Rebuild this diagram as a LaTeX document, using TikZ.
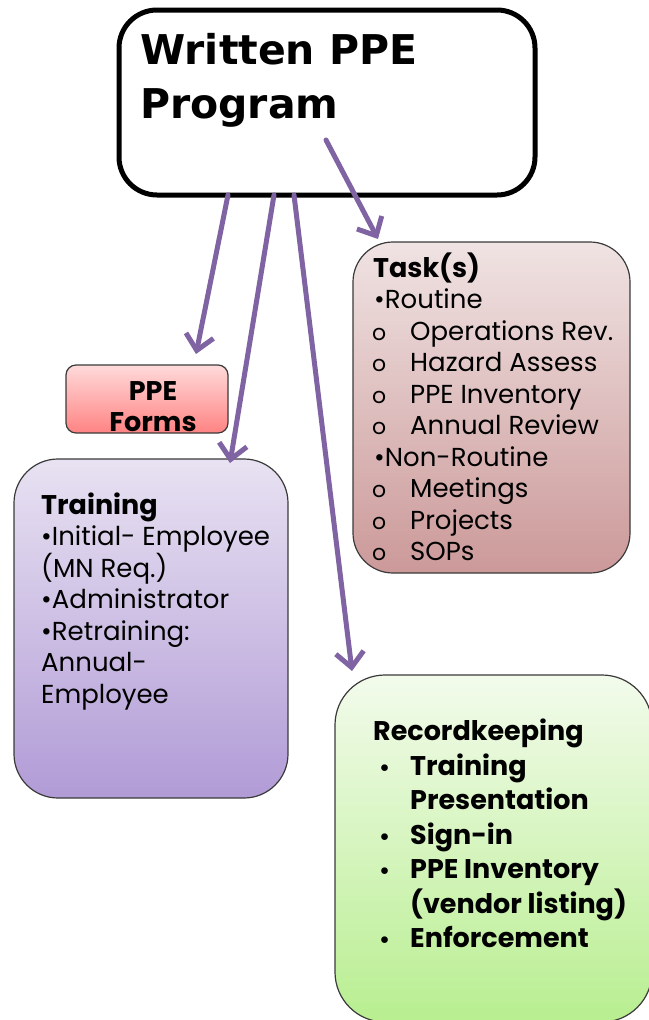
\documentclass[tikz,border=0pt]{standalone}
\usepackage{fontspec}
\setmainfont{Poppins}
\newfontfamily\heavyfont{DejaVu Sans}
\usetikzlibrary{arrows.meta}

\definecolor{arrowpurple}{HTML}{7F63A2}
\definecolor{edgegray}{HTML}{3A3A3A}
\definecolor{taskTop}{HTML}{F0E3E3}
\definecolor{taskBot}{HTML}{CC9999}
\definecolor{trainTop}{HTML}{E8E2F2}
\definecolor{trainBot}{HTML}{B19BD6}
\definecolor{recTop}{HTML}{F3FBEC}
\definecolor{recBot}{HTML}{B8EE90}
\definecolor{formTop}{HTML}{FFDADA}
\definecolor{formBot}{HTML}{FF8383}

\begin{document}
\begin{tikzpicture}[x=1pt,y=-1pt,
  box/.style={draw=edgegray, line width=1.2pt, inner sep=0pt},
  ln/.style={anchor=base west, inner sep=0pt, font=\fontsize{26}{26}\selectfont},
  lnb/.style={anchor=base west, inner sep=0pt, font=\fontsize{27}{27}\selectfont\bfseries},
  subdot/.style={anchor=base west, inner sep=0pt, font=\fontsize{22}{22}\selectfont},
  recdot/.style={anchor=base west, inner sep=0pt, font=\fontsize{22}{22}\selectfont\bfseries},
  arr/.style={draw=arrowpurple, line width=5pt, line cap=round, line join=round,
    -{Straight Barb[length=15pt,width=28pt]}},
]
\useasboundingbox (0,0) rectangle (648,1020);

% main box
\node[draw=black, line width=5pt, fill=white, rounded corners=38pt,
  minimum width=416pt, minimum height=185pt, inner sep=0pt] (top) at (327,102.5) {};
\node[anchor=base west, inner sep=0pt, font=\heavyfont\bfseries\fontsize{41}{41}\selectfont]
  (title1) at (140,64) {Written PPE};
\node[anchor=base west, inner sep=0pt, font=\heavyfont\bfseries\fontsize{41}{41}\selectfont]
  (title2) at (140,118) {Program};

% boxes
\node[box, top color=taskTop, bottom color=taskBot, rounded corners=40pt,
  minimum width=277pt, minimum height=331pt] (task) at (491.5,407.5) {};
\node[box, top color=trainTop, bottom color=trainBot, rounded corners=44pt,
  minimum width=274pt, minimum height=339pt] (train) at (151,628.5) {};
\node[box, top color=recTop, bottom color=recBot, rounded corners=50pt,
  minimum width=317pt, minimum height=347pt] (rec) at (493.5,848.5) {};
\node[box, top color=formTop, bottom color=formBot, rounded corners=10pt,
  minimum width=162pt, minimum height=68pt] (forms) at (147,399) {};

% task text
\node[lnb] (t0) at (373,277) {Task(s)};
\node[ln] (t1) at (374,308.5) {•Routine};
\foreach \yy/\tt [count=\i] in {340/Operations Rev., 371.5/Hazard Assess, 403/PPE Inventory,
    434.5/Annual Review} {
  \node[subdot] (to\i) at (372,\yy) {o};
  \node[ln] (tx\i) at (410,\yy) {\tt};
}
\node[ln] (t2) at (374,466) {•Non-Routine};
\foreach \yy/\tt [count=\i] in {497.5/Meetings, 529/Projects, 560.5/SOPs} {
  \node[subdot] (nr\i) at (372,\yy) {o};
  \node[ln] (nx\i) at (410,\yy) {\tt};
}

% training text
\node[lnb] (r0) at (41,514) {Training};
\node[ln] (r1) at (41,545.5) {•Initial- Employee};
\node[ln] (r2) at (41,577) {(MN Req.)};
\node[ln] (r3) at (41,608.5) {•Administrator};
\node[ln] (r4) at (41,640) {•Retraining:};
\node[ln] (r5) at (41,671.5) {Annual-};
\node[ln] (r6) at (41,703) {Employee};

% recordkeeping text
\node[lnb] (k0) at (373,740) {Recordkeeping};
\foreach \yy/\tt/\b [count=\i] in {775/Training/1, 809/Presentation/0, 844/Sign-in/1,
    878/PPE Inventory/1, 913/(vendor listing)/0, 947/Enforcement/1} {
  \ifnum\b=1 \node[recdot] (kb\i) at (379,\yy) {•}; \fi
  \node[lnb] (kx\i) at (410,\yy) {\tt};
}

% forms text
\node[anchor=base, inner sep=0pt, font=\fontsize{27}{27}\selectfont\bfseries] (f1) at (153,400) {PPE};
\node[anchor=base, inner sep=0pt, font=\fontsize{27}{27}\selectfont\bfseries] (f2) at (153,431) {Forms};

% connectors
\coordinate (a1s) at (228,195);  \coordinate (a1e) at (196,354);
\coordinate (a2s) at (274,195);  \coordinate (a2e) at (230,463);
\coordinate (a3s) at (294,195);  \coordinate (a3e) at (352,671);
\coordinate (a4s) at (326,140);  \coordinate (a4e) at (378,239);
\draw[arr] (a1s) -- (a1e);
\draw[arr] (a2s) -- (a2e);
\draw[arr] (a3s) -- (a3e);
\draw[arr] (a4s) -- (a4e);
\end{tikzpicture}
\end{document}
